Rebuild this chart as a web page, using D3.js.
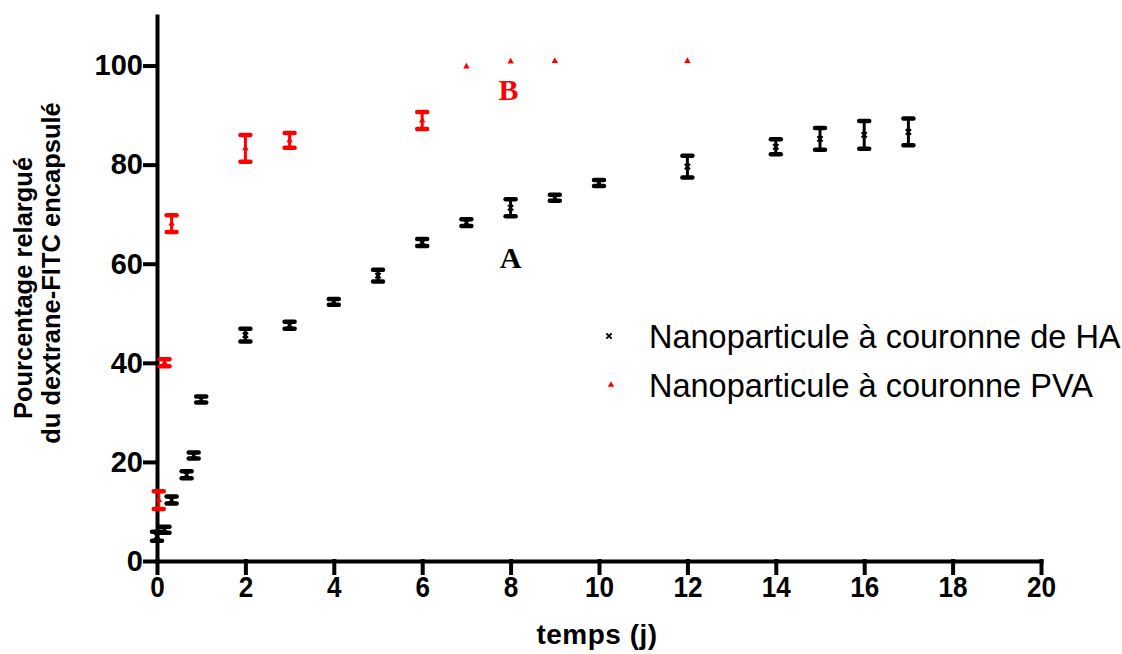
<!DOCTYPE html>
<html>
<head>
<meta charset="utf-8">
<script src="https://cdn.jsdelivr.net/npm/d3@7"></script>
<style>
  body { margin: 0; background: #fff; }
  .axis path, .axis line { stroke: #000; stroke-width: 4; stroke-linecap: square; }
  .axis text { font-family: "Liberation Sans", Arial, sans-serif; font-weight: bold; font-size: 29px; fill: #000; }
  .axis-title { font-family: "Liberation Sans", Arial, sans-serif; font-weight: bold; font-size: 25.5px; }
  .legend text { font-family: "Liberation Sans", Arial, sans-serif; font-size: 32.5px; }
  .tag { font-family: "Liberation Serif", "Times New Roman", serif; font-weight: bold; font-size: 30px; }
</style>
</head>
<body>
<div id="chart"></div>
<script>
// --- data (time in days, % released, +/- error) ---
const haTimes  = [0, 0.17, 0.33, 0.67, 0.83, 1, 2, 3, 4, 5, 6, 7, 8, 9, 10, 12, 14, 15, 16, 17];
const haValues = [5.0, 6.3, 12.3, 17.4, 21.3, 32.6, 45.6, 47.6, 52.3, 57.6, 64.3, 68.3, 71.3, 73.3, 76.3, 79.6, 83.6, 85.2, 86.0, 86.6];
const haErrors = [0.9, 0.6, 0.7, 0.7, 0.6, 0.6, 1.3, 0.7, 0.6, 1.2, 0.7, 0.7, 1.7, 0.6, 0.6, 2.2, 1.5, 2.2, 2.8, 2.7];

const pvaTimes  = [0.04, 0.17, 0.33, 2, 3, 6, 7, 8, 9, 12];
const pvaValues = [12.3, 40.0, 68.1, 83.3, 84.9, 88.9, 99.8, 100.8, 100.9, 100.9];
const pvaErrors = [1.8, 0.7, 1.7, 2.7, 1.5, 1.7, 0, 0, 0, 0];

const xTicks = [0, 2, 4, 6, 8, 10, 12, 14, 16, 18, 20];
const yTicks = [0, 20, 40, 60, 80, 100];
const xDomain = [0, 20];
const yDomain = [0, 110];

const seriesNames = ['Nanoparticule à couronne de HA', 'Nanoparticule à couronne PVA'];
const seriesColors = ['#000000', '#ff0000'];
const curveTags = ['A', 'B'];
const xTitle = 'temps (j)';
const yTitleLines = ['Pourcentage relargué', 'du dextrane-FITC encapsulé'];

const W = 1122, H = 654;
const margin = { top: 16, right: 81, bottom: 93, left: 157 };
const width = W - margin.left - margin.right;
const height = H - margin.top - margin.bottom;

const svg = d3.select('#chart').append('svg')
  .attr('width', W)
  .attr('height', H);

const chart = svg.append('g')
  .attr('transform', `translate(${margin.left},${margin.top})`);

const x = d3.scaleLinear().domain(xDomain).range([0, width]);
const y = d3.scaleLinear().domain(yDomain).range([height, 0]);

// axes
const xAxisG = chart.append('g')
  .attr('class', 'axis x-axis')
  .attr('transform', `translate(0,${height})`)
  .call(d3.axisBottom(x).tickValues(xTicks).tickSize(12).tickSizeOuter(0).tickPadding(3));

// x tick digits in the figure are a bit narrow and tall
xAxisG.selectAll('.tick text')
  .attr('transform', 'scale(0.9,1)')
  .attr('x', function () { return 0; });

chart.append('g')
  .attr('class', 'axis y-axis')
  .call(d3.axisLeft(y).tickValues(yTicks).tickSize(12).tickSizeOuter(0).tickPadding(2));

// axis titles
svg.append('text')
  .attr('class', 'axis-title')
  .attr('x', 597)
  .attr('y', 644)
  .attr('text-anchor', 'middle')
  .style('font-size', '28px')
  .style('letter-spacing', '0.5px')
  .text(xTitle);

yTitleLines.forEach((line, i) => {
  svg.append('text')
    .attr('class', 'axis-title')
    .attr('transform', `translate(${32 + i * 28},${288 - i * 15}) rotate(-90)`)
    .attr('text-anchor', 'middle')
    .text(line);
});

// one group per series: error bars + markers
const series = [
  { t: haTimes, v: haValues, e: haErrors, marker: 'cross' },
  { t: pvaTimes, v: pvaValues, e: pvaErrors, marker: 'triangle' }
];

series.forEach((s, k) => {
  const color = seriesColors[k];
  const pts = s.t.map((t, i) => ({ t: t, v: s.v[i], e: s.e[i] }));
  const g = chart.append('g').attr('class', 'series-' + k);

  const bars = g.selectAll('.err')
    .data(pts.filter(d => d.e > 0))
    .join('g')
    .attr('class', 'err')
    .attr('stroke', color)
    .attr('stroke-linecap', 'round');

  bars.append('line')
    .attr('x1', d => x(d.t)).attr('x2', d => x(d.t))
    .attr('y1', d => y(d.v + d.e)).attr('y2', d => y(d.v - d.e))
    .attr('stroke-width', 3);

  [1, -1].forEach(sign => {
    bars.append('line')
      .attr('x1', d => x(d.t) - 5).attr('x2', d => x(d.t) + 5)
      .attr('y1', d => y(d.v + sign * d.e)).attr('y2', d => y(d.v + sign * d.e))
      .attr('stroke-width', 4.5);
  });

  if (s.marker === 'cross') {
    g.selectAll('.pt')
      .data(pts)
      .join('path')
      .attr('class', 'pt')
      .attr('d', d3.symbol(d3.symbolX, 20))
      .attr('transform', d => `translate(${x(d.t)},${y(d.v)})`)
      .attr('stroke', color)
      .attr('stroke-width', 2)
      .attr('fill', 'none');
  } else {
    g.selectAll('.pt')
      .data(pts)
      .join('path')
      .attr('class', 'pt')
      .attr('d', d3.symbol(d3.symbolTriangle, 18))
      .attr('transform', d => `translate(${x(d.t)},${y(d.v)})`)
      .attr('fill', color);
  }
});

// curve tags
chart.append('text').attr('class', 'tag')
  .attr('x', x(8)).attr('y', y(59.2))
  .attr('text-anchor', 'middle')
  .attr('fill', seriesColors[0])
  .text(curveTags[0]);

chart.append('text').attr('class', 'tag')
  .attr('x', x(7.95)).attr('y', y(93))
  .attr('text-anchor', 'middle')
  .attr('fill', seriesColors[1])
  .text(curveTags[1]);

// legend
const legend = svg.append('g').attr('class', 'legend');
const legendRows = [
  { mx: 609, my: 336, ty: 348 },
  { mx: 611, my: 385, ty: 397 }
];
seriesNames.forEach((name, i) => {
  const row = legendRows[i];
  const sym = i === 0 ? d3.symbolX : d3.symbolTriangle;
  const m = legend.append('path')
    .attr('d', d3.symbol(sym, i === 0 ? 20 : 18))
    .attr('transform', `translate(${row.mx},${row.my})`);
  if (i === 0) m.attr('stroke', seriesColors[i]).attr('stroke-width', 2).attr('fill', 'none');
  else m.attr('fill', seriesColors[i]);
  legend.append('text')
    .attr('x', 649)
    .attr('y', row.ty)
    .attr('fill', '#000')
    .text(name);
});
</script>
</body>
</html>
